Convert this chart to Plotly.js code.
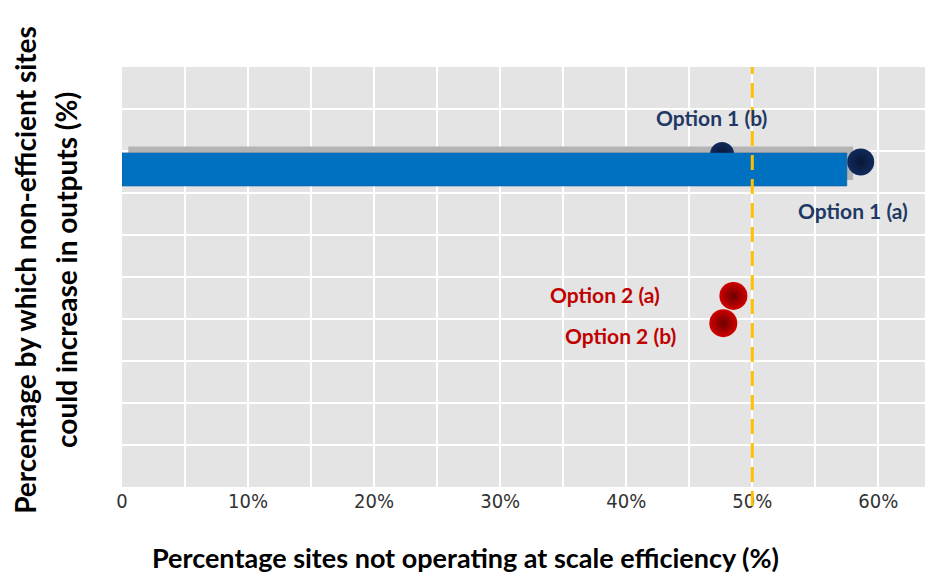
<!DOCTYPE html>
<html>
<head>
<meta charset="utf-8">
<script src="https://cdn.plot.ly/plotly-3.0.1.min.js"></script>
<style>html,body{margin:0;padding:0;background:#fff;}#chart{width:925px;height:577px;}</style>
</head>
<body>
<div id="chart"></div>
<script>
// ---- data ----
const option1Labels = ['Option 1 (a)', 'Option 1 (b)'];
const option1X = [0.586, 0.476];      // share of sites not operating at scale efficiency
const option1Y = [7.74, 7.93];        // position on the (unlabelled) output-increase axis
const option2Labels = ['Option 2 (a)', 'Option 2 (b)'];
const option2X = [0.485, 0.477];
const option2Y = [4.55, 3.90];
const barY = [7.56];
const barX = [0.575];
const shadowBase = [0.005];
const thresholdX = 0.50;
const xTickVals = [0, 0.05, 0.1, 0.15, 0.2, 0.25, 0.3, 0.35, 0.4, 0.45, 0.5, 0.55, 0.6];
const xTickText = ['0', '', '10%', '', '20%', '', '30%', '', '40%', '', '50%', '', '60%'];
const xRange = [0, 0.637];
const yRange = [0, 10];

const navy = '#1f3864', red = '#c00000';
const annFont = (c) => ({family: 'Lato, "Open Sans", sans-serif', size: 21, color: c, weight: 'bold'});
const titleFont = {family: 'Lato, sans-serif', size: 27, color: '#000', weight: 'bold'};
const yTitleFont = {family: 'Lato, sans-serif', size: 28, color: '#000', weight: 'bold'};

const traces = [
  { // shadow behind the bar
    type: 'bar', orientation: 'h', y: barY, x: barX, base: shadowBase,
    width: 0.8, offset: -0.25, marker: {color: '#b4b4b4', line: {width: 0}},
    hoverinfo: 'skip', showlegend: false, xaxis: 'x', yaxis: 'y'
  },
  {
    type: 'scatter', mode: 'markers', x: option1X, y: option1Y, text: option1Labels, opacity: 1,
    marker: {size: [27, 24], color: '#112a5c', opacity: 1, line: {width: 0},
             gradient: {type: 'radial', color: '#081636'}},
    showlegend: false, xaxis: 'x', yaxis: 'y', cliponaxis: false
  },
  {
    type: 'scatter', mode: 'markers', x: option2X, y: option2Y, text: option2Labels, opacity: 1,
    marker: {size: 28, color: '#d00000', opacity: 1, line: {width: 0},
             gradient: {type: 'radial', color: '#6e0000'}},
    showlegend: false, xaxis: 'x', yaxis: 'y', cliponaxis: false
  },
  { // main bar on overlay subplot so it sits above markers
    type: 'bar', orientation: 'h', y: barY, x: barX, width: 0.79,
    marker: {color: '#0070c0', line: {width: 0.5, color: '#0a5a9a'}},
    showlegend: false, xaxis: 'x2', yaxis: 'y2'
  }
];

const shapes = [{
  type: 'line', xref: 'x', yref: 'paper', x0: thresholdX, x1: thresholdX, y0: -0.045, y1: 1,
  line: {color: '#ffc000', width: 3, dash: '15px,9px'}, layer: 'above'
}];

const annotations = [
  {x: option1X[1], y: option1Y[1], xref: 'x', yref: 'y', text: option1Labels[1], showarrow: false, xshift: -11, yshift: 36, font: annFont(navy)},
  {x: option1X[0], y: option1Y[0], xref: 'x', yref: 'y', text: option1Labels[0], showarrow: false, xshift: -8, yshift: -49, font: annFont(navy)},
  {x: option2X[0], y: option2Y[0], xref: 'x', yref: 'y', text: option2Labels[0], showarrow: false, xshift: -128, yshift: 1, font: annFont(red)},
  {x: option2X[1], y: option2Y[1], xref: 'x', yref: 'y', text: option2Labels[1], showarrow: false, xshift: -103, yshift: -12, font: annFont(red)},
  {xref: 'paper', yref: 'paper', x: 0.428, y: -0.1667, xanchor: 'center', yanchor: 'middle',
   text: 'Percentage sites not operating at scale efficiency (%)', showarrow: false, font: titleFont},
  {xref: 'paper', yref: 'paper', x: -0.1208, y: 0.517, xanchor: 'center', yanchor: 'middle', textangle: -90,
   text: 'Percentage by which non-efficient sites', showarrow: false, font: yTitleFont},
  {xref: 'paper', yref: 'paper', x: -0.0697, y: 0.517, xanchor: 'center', yanchor: 'middle', textangle: -90,
   text: 'could increase in outputs (%)', showarrow: false, font: yTitleFont}
];

const layout = {
  width: 925, height: 577,
  margin: {l: 122, r: 0, t: 67, b: 90, pad: 0},
  paper_bgcolor: '#ffffff', plot_bgcolor: '#e4e4e4',
  showlegend: false, barmode: 'overlay',
  xaxis: {
    range: xRange, tickmode: 'array', tickvals: xTickVals, ticktext: xTickText,
    showgrid: true, gridcolor: '#ffffff', gridwidth: 2, zeroline: false, showline: false,
    ticks: '', ticklen: 0, tickfont: {family: '"DejaVu Sans Condensed", "DejaVu Sans", sans-serif', size: 20, color: '#333'},
    fixedrange: true
  },
  yaxis: {
    range: yRange, dtick: 1, showticklabels: false, showgrid: true, gridcolor: '#ffffff', gridwidth: 2,
    zeroline: false, showline: false, ticks: '', fixedrange: true
  },
  xaxis2: {overlaying: 'x', anchor: 'y2', range: xRange, visible: false, fixedrange: true},
  yaxis2: {overlaying: 'y', anchor: 'x2', range: yRange, visible: false, fixedrange: true},
  shapes: shapes,
  annotations: annotations
};

Plotly.newPlot('chart', traces, layout, {displayModeBar: false, staticPlot: true});
</script>
</body>
</html>
